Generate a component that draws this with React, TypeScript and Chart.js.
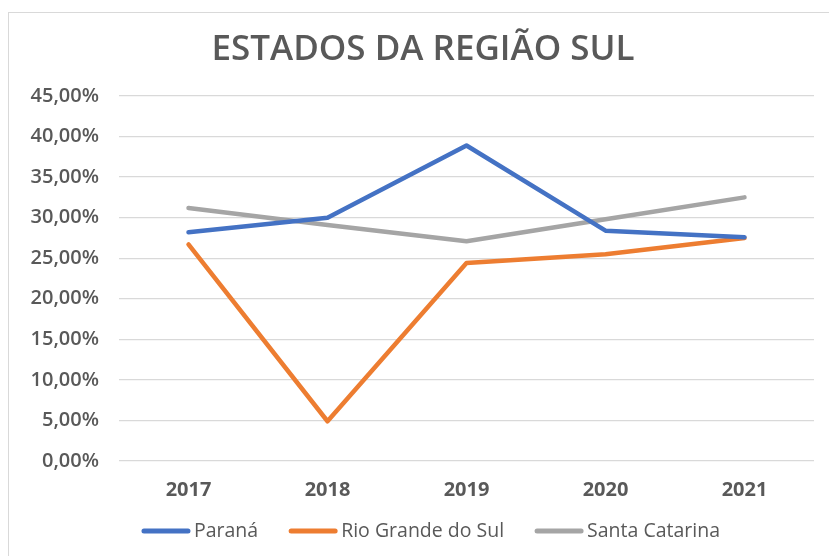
import React, { useEffect, useRef } from "react";
import { Chart, registerables } from "chart.js";

Chart.register(...registerables);

const chartTitle = "ESTADOS DA REGIÃO SUL";
const categories = ["2017", "2018", "2019", "2020", "2021"];
const seriesNames = ["Paraná", "Rio Grande do Sul", "Santa Catarina"];
const parana = [28.2, 30.0, 38.9, 28.4, 27.6];
const rioGrandeDoSul = [26.7, 4.9, 24.4, 25.5, 27.5];
const santaCatarina = [31.2, 29.1, 27.1, 29.8, 32.5];
const seriesColors = ["#4472C4", "#ED7D31", "#A5A5A5"];
const yMin = 0;
const yMax = 45;
const yStep = 5;

const FONT = "'Open Sans', sans-serif";
const TEXT = "#595959";
const GRID = "#D9D9D9";

const frame = {
  id: "frame",
  beforeDraw(chart: any) {
    const ctx = chart.ctx;
    ctx.save();
    ctx.fillStyle = "#ffffff";
    ctx.fillRect(0, 0, chart.width, chart.height);
    ctx.strokeStyle = GRID;
    ctx.lineWidth = 1;
    ctx.strokeRect(8.5, 12.5, chart.width + 20, chart.height + 20);
    ctx.restore();
  },
  afterDraw(chart: any) {
    const ctx = chart.ctx;
    ctx.save();
    // title
    ctx.fillStyle = TEXT;
    ctx.font = `600 35px ${FONT}`;
    ctx.textAlign = "center";
    ctx.textBaseline = "middle";
    ctx.fillText(chartTitle, 423, 50);
    // legend
    ctx.font = `400 19.5px ${FONT}`;
    const lineLen = 48;
    const gapLineText = 4;
    const itemGap = 31;
    const widths = chart.data.datasets.map(
      (d: any) => lineLen + gapLineText + ctx.measureText(d.label).width
    );
    const total = widths.reduce((a: number, b: number) => a + b, 0) + itemGap * (widths.length - 1);
    let x = 431 - total / 2;
    const y = 531;
    chart.data.datasets.forEach((d: any, i: number) => {
      ctx.strokeStyle = d.borderColor;
      ctx.lineWidth = 5;
      ctx.lineCap = "round";
      ctx.beginPath();
      ctx.moveTo(x + 2, y);
      ctx.lineTo(x + lineLen - 2, y);
      ctx.stroke();
      ctx.fillStyle = TEXT;
      ctx.textAlign = "left";
      ctx.textBaseline = "middle";
      ctx.fillText(d.label, x + lineLen + gapLineText, y);
      x += widths[i] + itemGap;
    });
    ctx.restore();
  },
};

export default function App() {
  const ref = useRef<HTMLCanvasElement>(null);
  useEffect(() => {
    if (!ref.current) return;
    const values = [parana, rioGrandeDoSul, santaCatarina];
    const chart = new Chart(ref.current, {
      type: "line",
      data: {
        labels: categories,
        datasets: seriesNames.map((name, i) => ({
          label: name,
          data: values[i],
          borderColor: seriesColors[i],
          backgroundColor: seriesColors[i],
          borderWidth: 4.5,
          pointRadius: 0,
          tension: 0,
          borderJoinStyle: "round" as const,
          borderCapStyle: "round" as const,
        })),
      },
      options: {
        responsive: false,
        animation: false,
        layout: { padding: { top: 96, right: 15, bottom: 0, left: 0 } },
        plugins: {
          legend: { display: false },
          title: { display: false },
          tooltip: { enabled: false },
        },
        scales: {
          x: {
            offset: true,
            grid: { display: false },
            border: { display: false },
            ticks: {
              color: TEXT,
              font: { family: FONT, size: 20, weight: "bold" },
              padding: 9,
            },
            afterFit: (s: any) => {
              s.height = 95;
            },
          },
          y: {
            min: yMin,
            max: yMax,
            border: { display: false },
            grid: { color: GRID, lineWidth: 1.3, drawTicks: false },
            ticks: {
              stepSize: yStep,
              color: TEXT,
              font: { family: FONT, size: 20, weight: 600 },
              padding: 20,
              callback: (v: any) => Number(v).toFixed(2).replace(".", ",") + "%",
            },
            afterFit: (s: any) => {
              s.width = 119;
            },
          },
        },
      },
      plugins: [frame],
    });
    return () => chart.destroy();
  }, []);
  return (
    <div style={{ position: "absolute", left: 0, top: 0, width: 829, height: 556 }}>
      <canvas ref={ref} width={829} height={556} style={{ display: "block" }} />
    </div>
  );
}
